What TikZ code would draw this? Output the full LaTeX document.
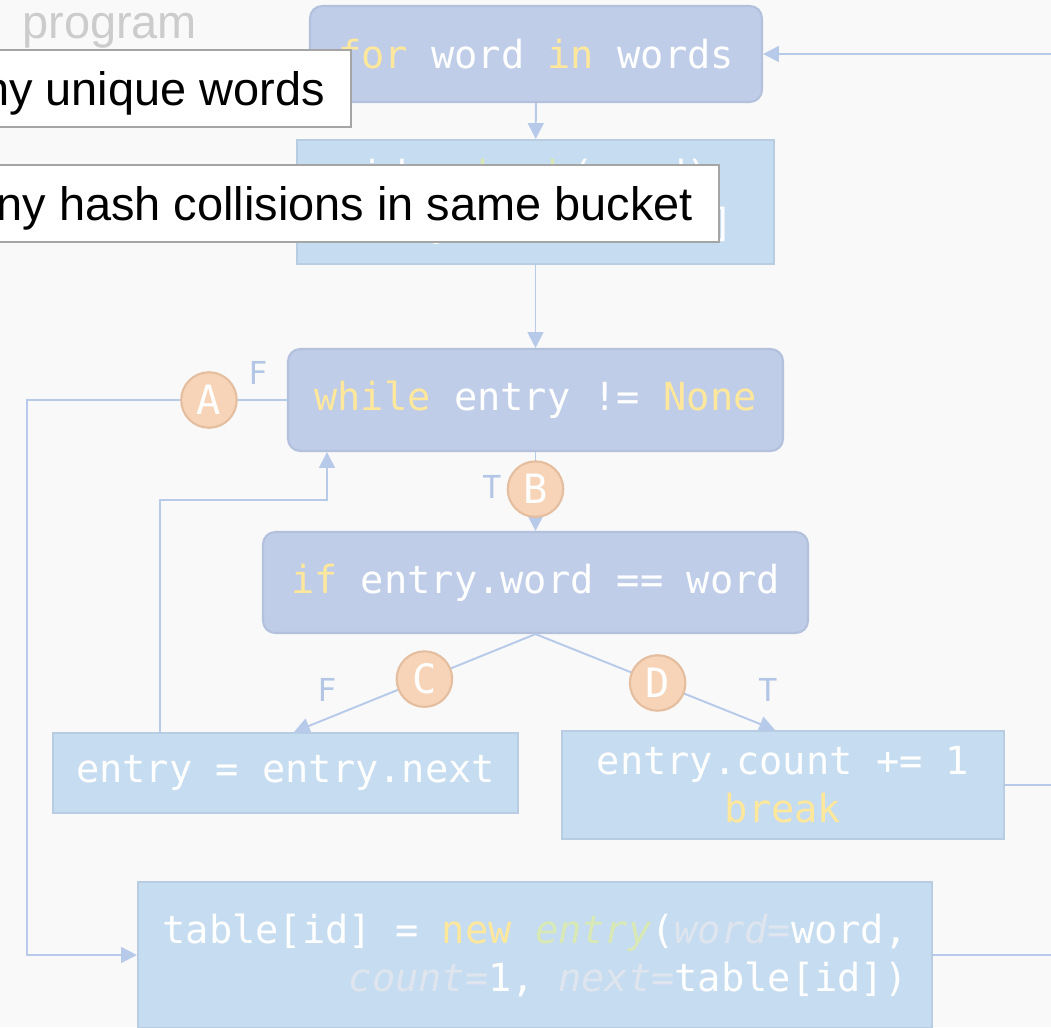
\documentclass[tikz,border=0pt]{standalone}
\usepackage{fontspec}
\newfontfamily\codefont{DejaVu Sans Mono}
\newfontfamily\notefont{Liberation Sans}
\definecolor{bg}{HTML}{F9F9F9}
\definecolor{ctrlfill}{HTML}{BFCDE9}
\definecolor{ctrldraw}{HTML}{B3C1DD}
\definecolor{stmtfill}{HTML}{C6DCF0}
\definecolor{stmtdraw}{HTML}{B8CCE2}
\definecolor{kwy}{HTML}{FFE79B}
\definecolor{fng}{HTML}{D9E9B5}
\definecolor{prmg}{HTML}{DFE5EE}
\definecolor{circfill}{HTML}{F7D4B7}
\definecolor{circdraw}{HTML}{E4BE9F}
\definecolor{linecol}{HTML}{B7CAEA}
\definecolor{labcol}{HTML}{B3C6E6}
\definecolor{notedraw}{HTML}{A5A5A5}
\definecolor{progtxt}{HTML}{CCCCCC}
\usetikzlibrary{arrows.meta,positioning}
\newcommand{\kw}[1]{\textcolor{kwy}{#1}}
\newcommand{\fn}[1]{\textcolor{fng}{#1}}
\newcommand{\prm}[1]{\textcolor{prmg}{\itshape #1}}
\tikzset{
  code/.style={text=white,align=center,inner sep=0pt,
               font=\codefont\fontsize{22}{27.2}\selectfont},
  ctrl/.style={code,draw=ctrldraw,fill=ctrlfill,line width=1.2pt,rounded corners=7pt},
  stmt/.style={code,draw=stmtdraw,fill=stmtfill,line width=1.2pt},
  tag/.style={circle,draw=circdraw,fill=circfill,line width=1.2pt,minimum size=1.11cm,
              inner sep=0pt,text=white,font=\codefont\fontsize{23}{26}\selectfont},
  tf/.style={text=labcol,font=\codefont\fontsize{18}{20}\selectfont},
  note/.style={draw=notedraw,line width=1.2pt,fill=white,text=black,inner xsep=0.52cm,
               minimum height=1.54cm,text height=19pt,text depth=0pt,
               font=\notefont\fontsize{26.7}{31}\selectfont},
  arr/.style={-{Triangle[length=9pt,width=9pt]},draw=linecol,line width=1.1pt},
  wire/.style={draw=linecol,line width=1.1pt},
}

\begin{document}
\begin{tikzpicture}
    \useasboundingbox (0,0) rectangle (21.02,-20.54);
    \clip (0,0) rectangle (21.02,-20.54);
    \fill[bg] (0,0) rectangle (21.02,-20.54);
    \node[anchor=base west,inner sep=0pt,text=progtxt,font=\notefont\fontsize{26.7}{31}\selectfont]
      (prog) at (0.44,-0.76) {program};
    \node[ctrl,minimum width=9.04cm,minimum height=1.92cm] (for) at (10.72,-1.08)
      {\kw{for} word \kw{in} words};
    \node[stmt,minimum width=9.54cm,minimum height=2.48cm] (hsh) at (10.71,-4.04)
      {id = \fn{hash}(word)\\entry = table[id]};
    \node[ctrl,minimum width=9.9cm,minimum height=2.04cm] (wh) at (10.71,-8.0)
      {\kw{while} entry != \kw{None}};
    \node[ctrl,minimum width=10.9cm,minimum height=2.02cm] (if) at (10.71,-11.65)
      {\kw{if} entry.word == word};
    \node[stmt,minimum width=9.3cm,minimum height=1.6cm] (nxt) at (5.71,-15.46)
      {entry = entry.next};
    \node[stmt,minimum width=8.84cm,minimum height=2.16cm] (cnt) at (15.66,-15.7)
      {entry.count += 1\\\kw{break}};
    \node[stmt,align=right,minimum width=15.88cm,minimum height=2.92cm] (tbl) at (10.7,-19.1)
      {table[id] = \kw{new} \fn{\itshape entry}(\prm{word}\textcolor{prmg}{=}word,\\
       \prm{count}\textcolor{prmg}{=}1, \prm{next}\textcolor{prmg}{=}table[id])};
    \coordinate (back) at (21.3,-1.08);
    \coordinate (out1) at (21.3,-15.7);
    \coordinate (out2) at (21.3,-19.1);
    \coordinate (lft) at (0.54,-8.0);
    \coordinate (up1) at (3.2,-10.0);
    \coordinate (up2) at (6.54,-10.0);
    \draw[arr] (back) -- (for.east);
    \draw[arr] (for) -- (hsh);
    \draw[arr] (hsh) -- (wh);
    \draw[arr] (wh.south) -- node[tag,pos=.47] (B) {B} (if.north);
    \draw[arr] (if.south) -- node[tag,pos=.46] (C) {C} ([xshift=0.17cm]nxt.north);
    \draw[arr] (if.south) -- node[tag,pos=.51] (D) {D} ([xshift=-0.16cm]cnt.north);
    \draw[arr] (nxt.north -| up1) -- (up1) -- (up2) -- (wh.south -| up2);
    \draw[arr] (wh.west) -- node[tag,pos=.3] (A) {A} (lft) -- (lft |- tbl.west) -- (tbl.west);
    \draw[wire] (cnt.east) -- (out1);
    \draw[wire] (tbl.east) -- (out2);
    \node[tf] (fA) at (5.16,-7.46) {F};
    \node[tf] (tB) at (9.84,-9.74) {T};
    \node[tf] (fC) at (6.54,-13.8) {F};
    \node[tf] (tD) at (15.36,-13.8) {T};
    \node[note,anchor=east] (n1) at (7.04,-1.77) {many unique words};
    \node[note,anchor=east] (n2) at (14.4,-4.07) {many hash collisions in same bucket};
\end{tikzpicture}
\end{document}
